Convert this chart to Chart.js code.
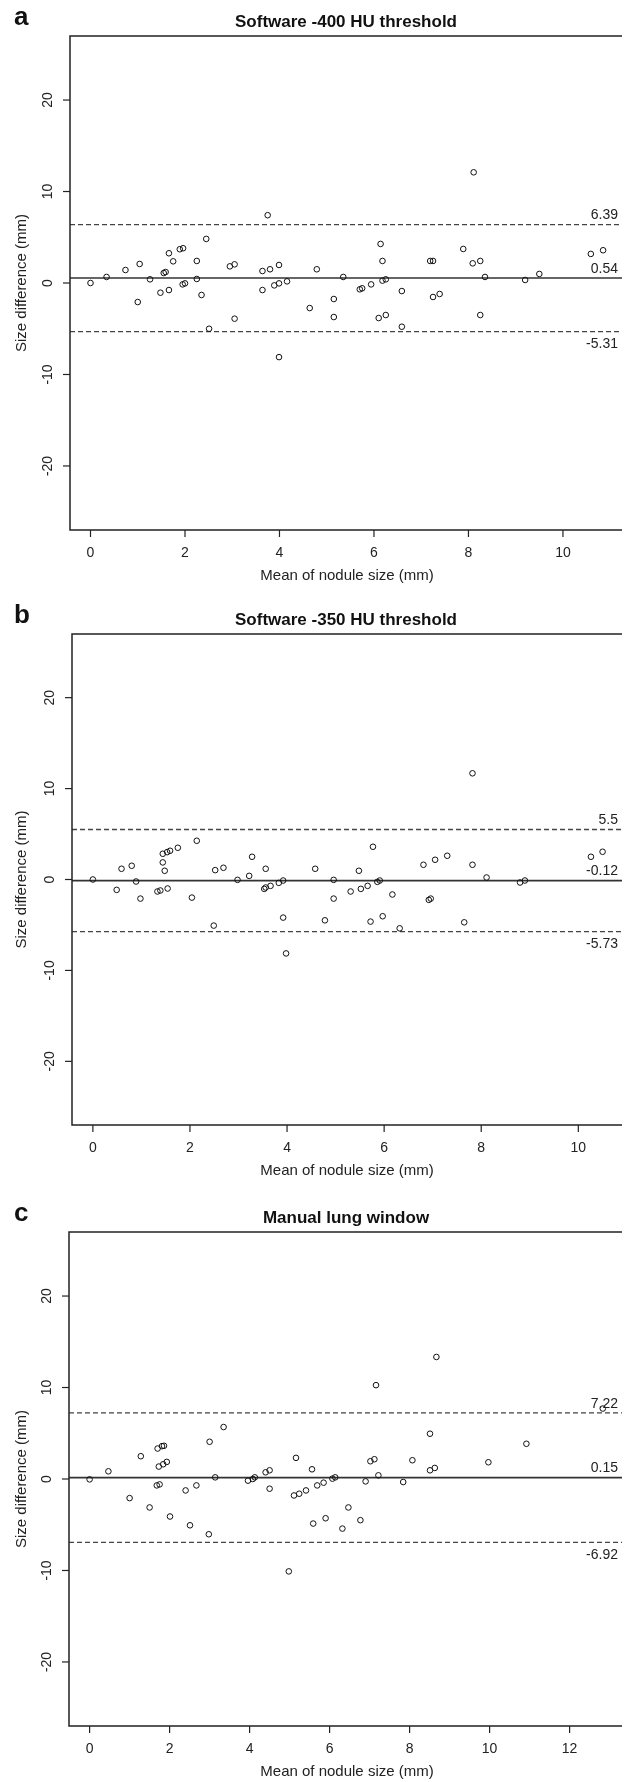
<!DOCTYPE html>
<html>
<head>
<meta charset="utf-8">
<script src="https://cdn.jsdelivr.net/npm/chart.js@4/dist/chart.umd.min.js"></script>
<style>
  html, body { margin: 0; padding: 0; background: #fff; }
  #page { position: relative; width: 633px; height: 1782px; overflow: hidden; }
  canvas { position: absolute; left: 0; }
</style>
</head>
<body>
<div id="page">
  <canvas id="chartA" width="633" height="590" style="top:0px"></canvas>
  <canvas id="chartB" width="633" height="600" style="top:590px"></canvas>
  <canvas id="chartC" width="633" height="592" style="top:1190px"></canvas>
</div>
<script>
// Panel a: Software -400 HU threshold
const xA = [0, 0.34, 0.74, 1.0, 1.04, 1.26, 1.48, 1.55, 1.59, 1.66, 1.66, 1.75, 1.89, 1.96, 1.95,
  2.0, 2.25, 2.25, 2.35, 2.45, 2.51, 2.95, 3.05, 3.05, 3.64, 3.64, 3.75, 3.80, 3.89, 3.99,
  3.99, 3.99, 4.16, 4.64, 4.79, 5.15, 5.15, 5.35, 5.70, 5.75, 5.94, 6.10, 6.14, 6.18, 6.18,
  6.25, 6.25, 6.59, 6.59, 7.19, 7.25, 7.25, 7.39, 7.89, 8.09, 8.11, 8.25, 8.25, 8.35, 9.2,
  9.5, 10.59, 10.85]
const yA = [0, 0.66, 1.42, -2.08, 2.08, 0.40, -1.06, 1.09, 1.2, 3.25, -0.77, 2.37, 3.69, 3.80, -0.15,
  -0.04, 2.41, 0.44, -1.31, 4.82, -5.0, 1.82, 2.04, -3.9, -0.77, 1.31, 7.41, 1.50, -0.26, -0.04,
  1.97, -8.1, 0.18, -2.74, 1.50, -1.75, -3.72, 0.66, -0.69, -0.58, -0.15, -3.83, 4.27, 2.41, 0.26,
  0.40, -3.5, -0.88, -4.78, 2.41, 2.41, -1.53, -1.2, 3.72, 2.15, 12.1, 2.41, -3.5, 0.66, 0.33,
  0.99, 3.18, 3.58]
const limitsA = [6.39, 0.54, -5.31]

// Panel b: Software -350 HU threshold
const xB = [0, 0.49, 0.59, 0.80, 0.89, 0.98, 1.33, 1.39, 1.44, 1.44, 1.48, 1.54, 1.53, 1.59, 1.75,
  2.04, 2.14, 2.49, 2.52, 2.69, 2.98, 3.22, 3.28, 3.53, 3.56, 3.56, 3.66, 3.83, 3.92, 3.92,
  3.98, 4.58, 4.78, 4.96, 4.96, 5.31, 5.48, 5.52, 5.66, 5.72, 5.77, 5.86, 5.91, 5.97, 6.17,
  6.32, 6.81, 6.92, 6.96, 7.05, 7.30, 7.65, 7.82, 7.82, 8.11, 8.80, 8.90, 10.26, 10.5]
const yB = [0, -1.14, 1.18, 1.51, -0.22, -2.1, -1.32, -1.21, 1.88, 2.83, 0.96, -0.99, 3.01, 3.16, 3.49,
  -1.99, 4.26, -5.07, 1.03, 1.29, -0.04, 0.40, 2.5, -1.03, -0.88, 1.18, -0.70, -0.37, -0.11, -4.19,
  -8.13, 1.18, -4.49, -0.04, -2.1, -1.32, 0.96, -1.03, -0.70, -4.63, 3.6, -0.26, -0.11, -4.04, -1.65,
  -5.37, 1.62, -2.24, -2.1, 2.17, 2.61, -4.71, 1.62, 11.68, 0.22, -0.33, -0.11, 2.5, 3.05]
const limitsB = [5.5, -0.12, -5.73]

// Panel c: Manual lung window
const xC = [0, 0.47, 1.0, 1.28, 1.5, 1.70, 1.68, 1.75, 1.73, 1.81, 1.86, 1.84, 1.93, 2.01, 2.40,
  2.51, 2.67, 2.98, 3.0, 3.14, 3.35, 3.96, 4.08, 4.13, 4.40, 4.5, 4.5, 4.98, 5.11, 5.16,
  5.24, 5.41, 5.56, 5.59, 5.69, 5.85, 5.90, 6.07, 6.14, 6.32, 6.47, 6.77, 6.90, 7.02, 7.12,
  7.16, 7.22, 7.84, 8.07, 8.51, 8.51, 8.63, 8.67, 9.97, 10.92, 12.83]
const yC = [-0.04, 0.84, -2.09, 2.49, -3.11, 3.33, -0.70, -0.59, 1.36, 3.59, 3.63, 1.61, 1.87, -4.1, -1.25,
  -5.06, -0.70, -6.04, 4.07, 0.18, 5.68, -0.18, 0, 0.18, 0.73, 0.95, -1.06, -10.1, -1.8, 2.31,
  -1.61, -1.25, 1.06, -4.87, -0.70, -0.40, -4.29, 0.04, 0.18, -5.42, -3.11, -4.5, -0.26, 1.94, 2.16,
  10.26, 0.40, -0.33, 2.05, 4.95, 0.95, 1.21, 13.34, 1.83, 3.85, 7.7]
const limitsC = [7.22, 0.15, -6.92]

// Axes
const yTicks = [-20, -10, 0, 10, 20]
const xTicksAB = [0, 2, 4, 6, 8, 10]
const xTicksC = [0, 2, 4, 6, 8, 10, 12]
const yRange = [-27, 27]
const xRangeA = [-0.434, 11.25]
const xRangeB = [-0.43, 10.9]
const xRangeC = [-0.515, 13.31]

const FONT = '"Liberation Sans", Arial, Helvetica, sans-serif'
const INK = '#222'

// draws the R-style box, ticks, labels and texts
const rFrame = {
  id: 'rFrame',
  afterDraw(chart, args, opts) {
    const ctx = chart.ctx
    const a = chart.chartArea
    const xs = chart.scales.x
    const ys = chart.scales.y
    ctx.save()
    ctx.strokeStyle = INK
    ctx.fillStyle = INK
    ctx.lineWidth = 1.5

    // box (right edge is cropped off in the figure)
    ctx.beginPath()
    ctx.moveTo(a.right, a.top)
    ctx.lineTo(a.left, a.top)
    ctx.lineTo(a.left, a.bottom)
    ctx.lineTo(a.right, a.bottom)
    ctx.stroke()

    // x ticks
    ctx.lineWidth = 1.2
    ctx.font = '14px ' + FONT
    ctx.textAlign = 'center'
    ctx.textBaseline = 'middle'
    opts.xTicks.forEach(v => {
      const px = xs.getPixelForValue(v)
      ctx.beginPath()
      ctx.moveTo(px, a.bottom)
      ctx.lineTo(px, a.bottom + 7)
      ctx.stroke()
      ctx.fillText(String(v), px, a.bottom + 23)
    })

    // y ticks, labels rotated like R
    yTicks.forEach(v => {
      const py = ys.getPixelForValue(v)
      ctx.beginPath()
      ctx.moveTo(a.left - 7, py)
      ctx.lineTo(a.left, py)
      ctx.stroke()
      ctx.save()
      ctx.translate(a.left - 22, py)
      ctx.rotate(-Math.PI / 2)
      ctx.fillText(String(v), 0, 0)
      ctx.restore()
    })

    // axis titles
    ctx.font = '15px ' + FONT
    ctx.fillText('Mean of nodule size (mm)', 347, a.bottom + 46)
    ctx.save()
    ctx.translate(22, (a.top + a.bottom) / 2)
    ctx.rotate(-Math.PI / 2)
    ctx.fillText('Size difference (mm)', 0, 0)
    ctx.restore()

    // limit labels
    ctx.font = '14px ' + FONT
    ctx.textAlign = 'right'
    opts.limits.forEach((v, i) => {
      const py = ys.getPixelForValue(v)
      const off = i === 2 ? 13 : -9
      ctx.fillText(String(v), a.right - 4, py + off)
    })

    // title and panel letter
    ctx.fillStyle = '#111'
    ctx.textAlign = 'center'
    ctx.textBaseline = 'alphabetic'
    ctx.font = 'bold 17px ' + FONT
    ctx.fillText(opts.title, 346, a.top - 9)
    ctx.textAlign = 'left'
    ctx.font = 'bold 26px ' + FONT
    ctx.fillText(opts.letter, 14, a.top - 11)
    ctx.restore()
  }
}

function zip(xs, ys) {
  return xs.map((x, i) => ({ x: x, y: ys[i] }))
}

function hline(v, xr, dashed) {
  return {
    type: 'line',
    data: [{ x: xr[0], y: v }, { x: xr[1], y: v }],
    borderColor: dashed ? '#444' : '#333',
    borderWidth: dashed ? 1.3 : 1.6,
    borderDash: dashed ? [5, 3] : [],
    pointRadius: 0,
    showLine: true,
    fill: false
  }
}

function makePanel(id, xs, ys, limits, xr, xTicks, title, letter, pad) {
  const ctx = document.getElementById(id).getContext('2d')
  return new Chart(ctx, {
    type: 'scatter',
    data: {
      datasets: [
        {
          data: zip(xs, ys),
          pointStyle: 'circle',
          pointRadius: 2.8,
          borderWidth: 1,
          borderColor: '#111',
          backgroundColor: 'rgba(0,0,0,0)'
        },
        hline(limits[0], xr, true),
        hline(limits[1], xr, false),
        hline(limits[2], xr, true)
      ]
    },
    options: {
      responsive: false,
      animation: false,
      devicePixelRatio: 1,
      layout: { padding: pad },
      plugins: {
        legend: { display: false },
        tooltip: { enabled: false },
        rFrame: { limits: limits, xTicks: xTicks, title: title, letter: letter }
      },
      scales: {
        x: { type: 'linear', min: xr[0], max: xr[1], display: false },
        y: { type: 'linear', min: yRange[0], max: yRange[1], display: false }
      }
    },
    plugins: [rFrame]
  })
}

makePanel('chartA', xA, yA, limitsA, xRangeA, xTicksAB, 'Software -400 HU threshold', 'a',
  { left: 70, top: 36, right: 11, bottom: 60 })
makePanel('chartB', xB, yB, limitsB, xRangeB, xTicksAB, 'Software -350 HU threshold', 'b',
  { left: 72, top: 44, right: 11, bottom: 65 })
makePanel('chartC', xC, yC, limitsC, xRangeC, xTicksC, 'Manual lung window', 'c',
  { left: 69, top: 42, right: 11, bottom: 56 })
</script>
</body>
</html>
